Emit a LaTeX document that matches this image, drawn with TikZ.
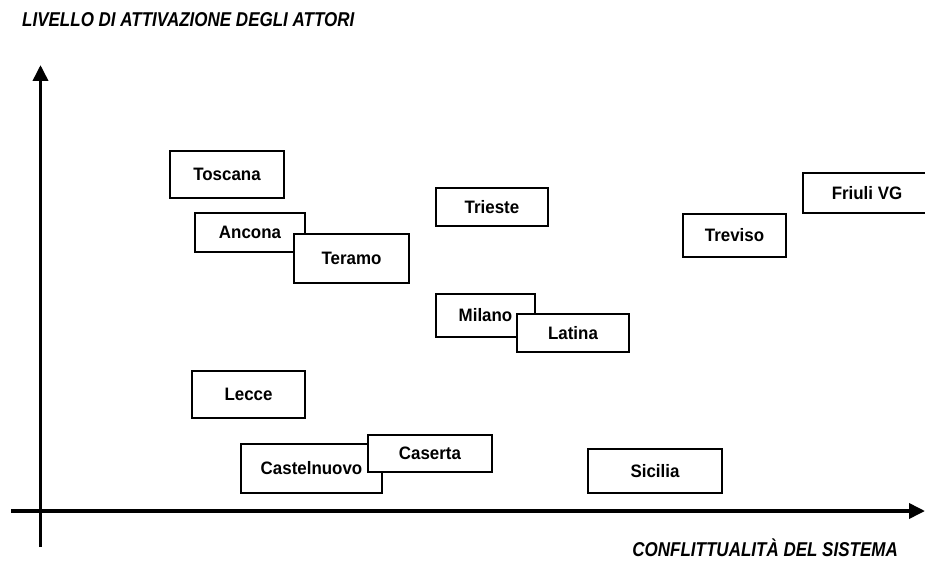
\documentclass[tikz,border=0pt]{standalone}
\usepackage{fontspec}
\usepackage{graphicx}
\setmainfont{Liberation Sans}
\usetikzlibrary{arrows.meta}
\tikzset{
  place/.style={draw, line width=1.4pt, fill=white, inner sep=0pt,
    font=\fontsize{18}{18}\selectfont\bfseries},
  axis/.style={line width=3.6pt, -{Triangle[length=16pt,width=15pt]}},
  axtitle/.style={inner sep=0pt, font=\fontsize{20}{20}\selectfont\bfseries\itshape}
}
\newcommand{\plbox}[6]{% name, x1, y1, x2, y2, text
  \node[place, minimum width={(#4-#2)*1pt}, minimum height={(#5-#3)*1pt}]
    (#1) at ({(#2+#4)/2},{(#3+#5)/2}) {\scalebox{0.94}[1]{#6}};}
\begin{document}
\begin{tikzpicture}[x=1pt,y=-1pt]
\useasboundingbox (0,0) rectangle (925,561);
% axes
\coordinate (yb) at (40.5,547);
\coordinate (yt) at (40.5,65);
\coordinate (xl) at (11,511);
\coordinate (xr) at (925,511);
\draw[axis] (yb) -- (yt);
\draw[axis] (xl) -- (xr);
% axis titles
\node[axtitle, anchor=base west] (ytitle) at (22,27)
  {\scalebox{0.85}[1]{LIVELLO DI ATTIVAZIONE DEGLI ATTORI}};
\node[axtitle, anchor=base east] (xtitle) at (898,556)
  {\scalebox{0.85}[1]{CONFLITTUALITÀ DEL SISTEMA}};
% places
\plbox{toscana}{170}{151}{284}{198}{Toscana}
\plbox{ancona}{195}{213}{305}{252}{Ancona}
\plbox{teramo}{294}{234}{409}{283}{Teramo}
\plbox{trieste}{436}{188}{548}{226}{Trieste}
\plbox{friuli}{803}{173}{931}{213}{Friuli VG}
\plbox{treviso}{683}{214}{786}{257}{Treviso}
\plbox{milano}{436}{294}{535}{337}{Milano}
\plbox{latina}{517}{314}{629}{352}{Latina}
\plbox{lecce}{192}{371}{305}{418}{Lecce}
\plbox{castelnuovo}{241}{444}{382}{493}{Castelnuovo}
\plbox{caserta}{368}{435}{492}{472}{Caserta}
\plbox{sicilia}{588}{449}{722}{493}{Sicilia}
\end{tikzpicture}
\end{document}
